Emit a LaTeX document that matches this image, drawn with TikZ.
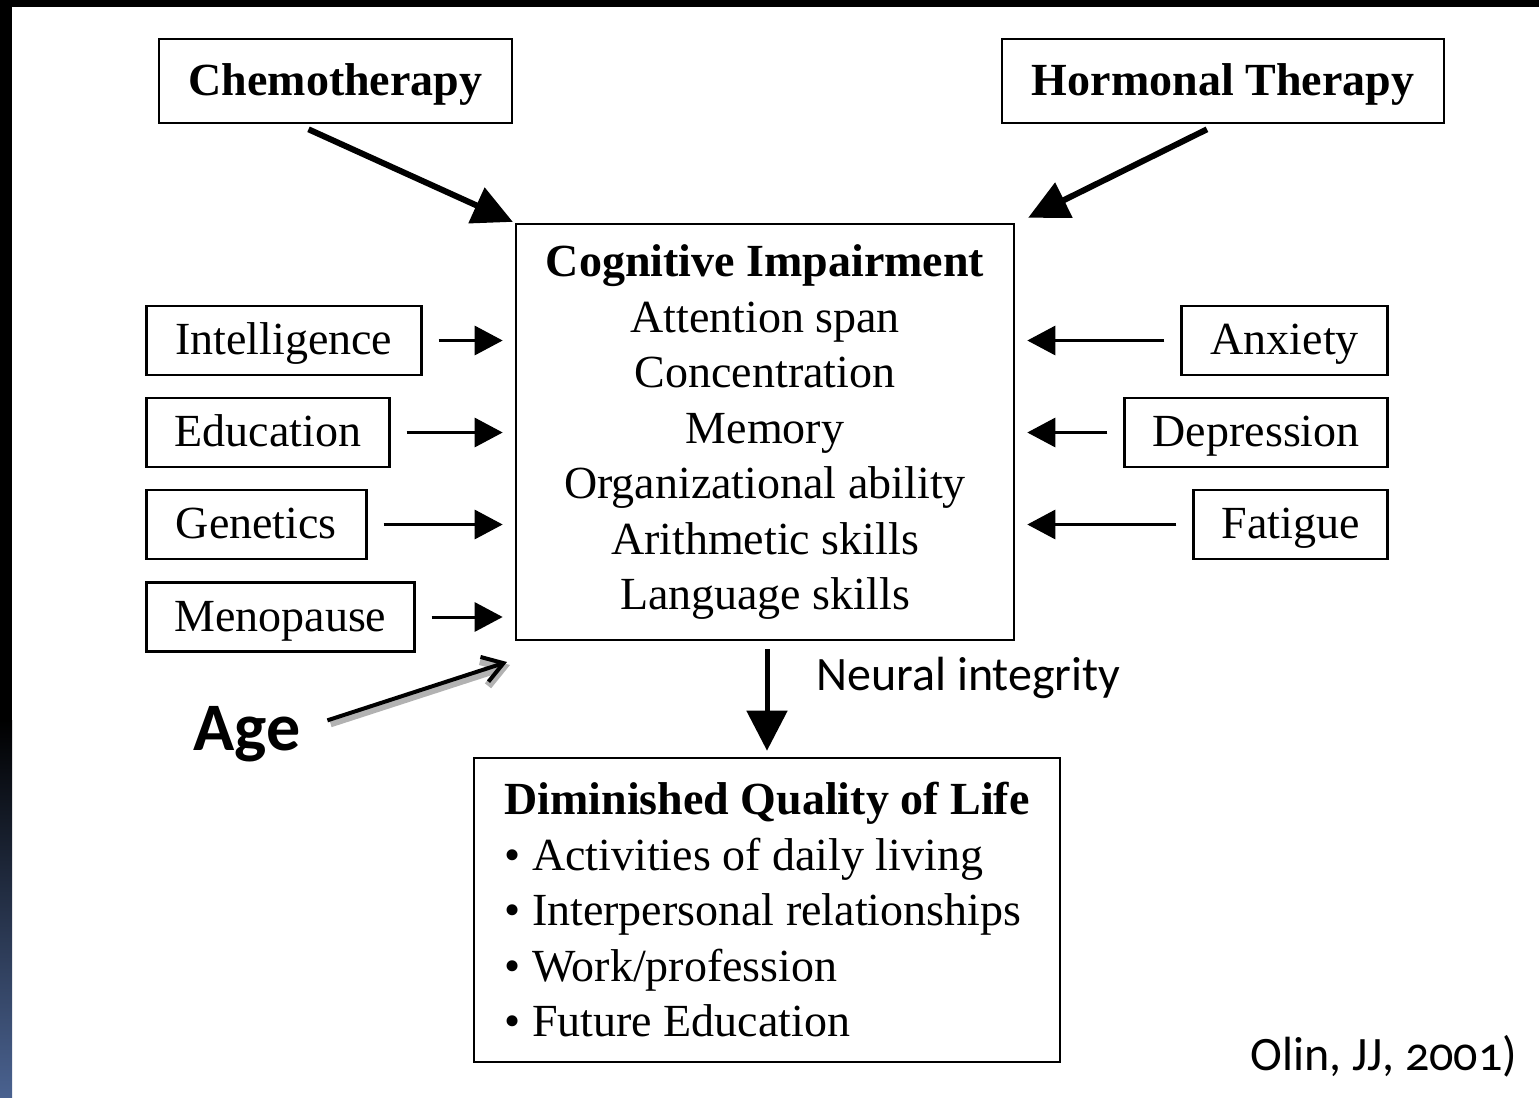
\documentclass[tikz,border=0pt]{standalone}
\usepackage{fontspec}
\setmainfont{Liberation Serif}
\newfontfamily\slidefont{Carlito}[Numbers=OldStyle]
\usetikzlibrary{arrows.meta}
\definecolor{stripblue}{RGB}{74,98,144}

\begin{document}
\begin{tikzpicture}[x=0.5pt,y=-0.5pt,
  factor/.style={rectangle,draw=black,line width=1.3pt,minimum height=34.5pt,inner xsep=0pt,
    text height=17pt,text depth=3pt,font=\fontsize{23}{27.75}\selectfont},
  treat/.style={factor,minimum height=42pt,font=\fontsize{23}{27.75}\selectfont\bfseries},
  bigbox/.style={rectangle,draw=black,line width=1.3pt,font=\fontsize{23}{27.75}\selectfont},
  note/.style={inner sep=0pt,font=\slidefont\fontsize{24}{28}\selectfont},
  sidearr/.style={-{Triangle[length=14pt,width=14.5pt]},line width=1.5pt,shorten <=8pt,shorten >=6pt},
  bigarr/.style={-{Triangle[length=20pt,width=19pt]},line width=3pt,shorten >=1pt},
  downarr/.style={-{Triangle[length=20pt,width=20pt]},line width=2.5pt,shorten <=4pt,shorten >=3pt},
  agearr/.style={-{Straight Barb[length=10pt,width=13pt]},line width=2pt,
    preaction={draw=black!30,line width=4pt,transform canvas={shift={(1.5pt,-1.5pt)}}}}
]
\useasboundingbox (0,0) rectangle (1539,1098);
% slide edges
\fill[black] (0,0) rectangle (1539,7);
\fill[black] (0,0) rectangle (12,720);
\shade[top color=black,bottom color=stripblue] (0,720) rectangle (12,1098);

% treatments
\node[treat,minimum width=176.5pt] (chemo) at (335.5,81) {Chemotherapy};
\node[treat,minimum width=221pt] (horm) at (1223,81) {Hormonal Therapy};

% central box
\node[bigbox,minimum width=249pt,minimum height=208pt,align=center] (ci) at (765,432)
  {\textbf{Cognitive Impairment}\\Attention span\\Concentration\\Memory\\Organizational ability\\Arithmetic skills\\Language skills};

% left factors
\node[factor,anchor=west,minimum width=137.5pt] (intel) at (145,340.5) {Intelligence};
\node[factor,anchor=west,minimum width=121.5pt] (edu) at (145,432.5) {Education};
\node[factor,anchor=west,minimum width=110pt] (gen) at (145,524.5) {Genetics};
\node[factor,anchor=west,minimum width=134pt] (meno) at (145,617) {Menopause};

% right factors
\node[factor,anchor=east,minimum width=103pt] (anx) at (1389,340.5) {Anxiety};
\node[factor,anchor=east,minimum width=131.5pt] (dep) at (1389,432.5) {Depression};
\node[factor,anchor=east,minimum width=97pt] (fatig) at (1389,524.5) {Fatigue};

% outcome
\node[bigbox,minimum width=293pt,minimum height=152pt,align=left] (dql) at (767,910)
  {\textbf{Diminished Quality of Life}\\\textbullet\ Activities of daily living\\\textbullet\ Interpersonal relationships\\\textbullet\ Work/profession\\\textbullet\ Future Education};

% slide notes
\node[note,anchor=base west] (neural) at (816,690) {Neural integrity};
\node[note,anchor=base west,font=\slidefont\bfseries\fontsize{34}{40}\selectfont] (age) at (193,750) {Age};
\node[note,anchor=base west] (cite) at (1250,1070) {Olin, JJ, 2001)};
\coordinate (agetip) at (507,662);

\draw[bigarr] ([xshift=-13.5pt,yshift=-2.5pt]chemo.south) -- (ci.north west);
\draw[bigarr] ([xshift=-8pt,yshift=-2.5pt]horm.south) -- ([xshift=5.5pt,yshift=2pt]ci.north east);
\draw[sidearr] (intel.east) -- (intel.east -| ci.west);
\draw[sidearr] (edu.east) -- (edu.east -| ci.west);
\draw[sidearr] (gen.east) -- (gen.east -| ci.west);
\draw[sidearr] (meno.east) -- (meno.east -| ci.west);
\draw[sidearr] (anx.west) -- (anx.west -| ci.east);
\draw[sidearr] (dep.west) -- (dep.west -| ci.east);
\draw[sidearr] (fatig.west) -- (fatig.west -| ci.east);
\draw[downarr] (dql.north |- ci.south) -- (dql.north);
\draw[agearr,shorten <=14pt] (age.5) -- (agetip);
\end{tikzpicture}
\end{document}
